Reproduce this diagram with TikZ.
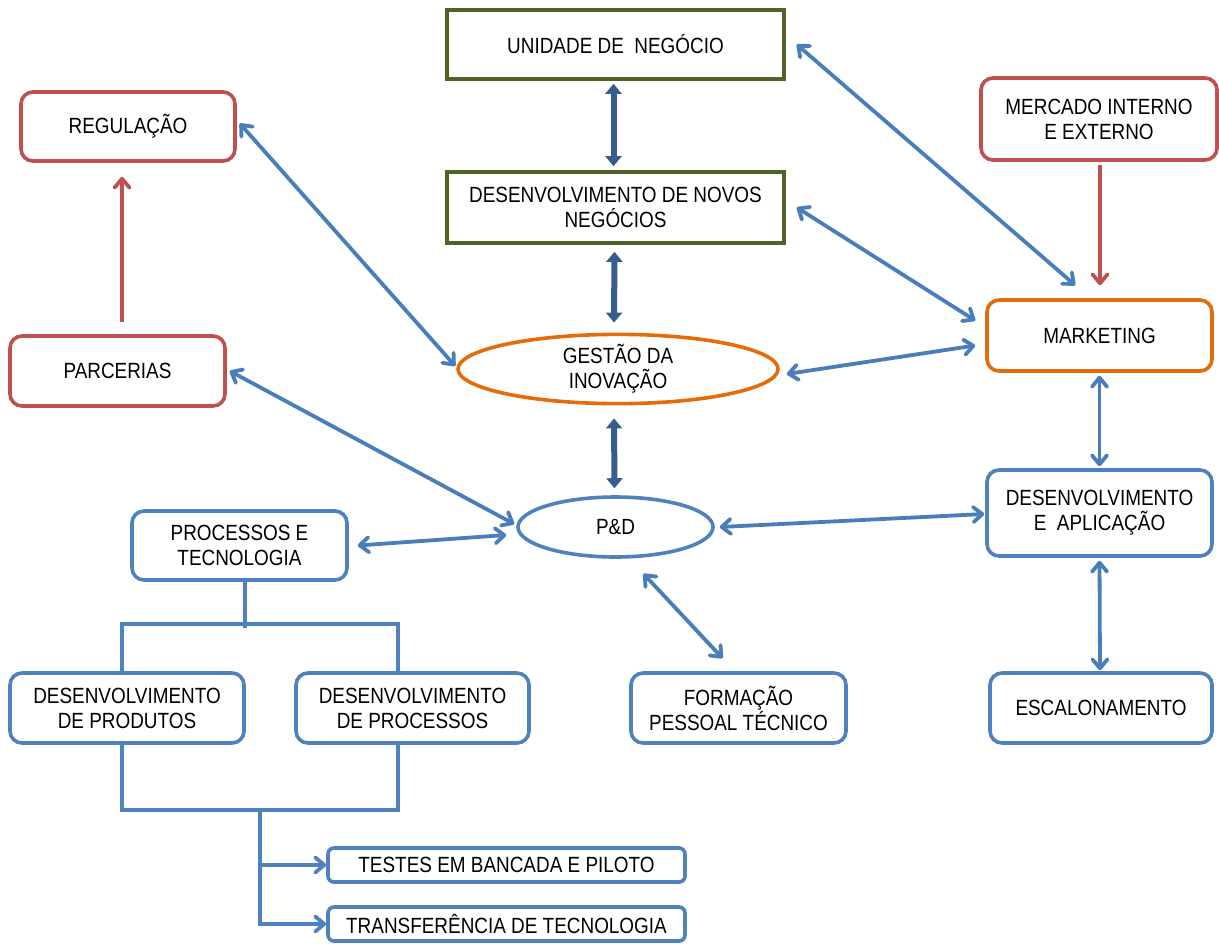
\documentclass[tikz,border=0pt]{standalone}
\usepackage{fontspec}
\usetikzlibrary{arrows.meta,shapes.geometric,calc}
\newfontfamily\labfont{Liberation Sans}[FakeStretch=0.86]
\definecolor{olivegreen}{HTML}{4F6228}
\definecolor{brickred}{HTML}{C0504D}
\definecolor{pumpkin}{HTML}{E46C0A}
\definecolor{steelblue}{HTML}{4F81BD}
\definecolor{linkblue}{HTML}{4A7EBB}
\definecolor{navyblue}{HTML}{385D8A}
\tikzset{
  lab/.style={font=\labfont\fontsize{11}{12.5}\selectfont, align=center, text=black, line width=1.8pt, inner sep=0pt},
  greenbox/.style={lab, draw=olivegreen, rectangle},
  redbox/.style={lab, draw=brickred, rectangle, rounded corners=6pt},
  orangebox/.style={lab, draw=pumpkin, rectangle, rounded corners=6pt},
  bluebox/.style={lab, draw=steelblue, rectangle, rounded corners=6pt},
  thinbox/.style={lab, draw=steelblue, rectangle, rounded corners=3pt},
  oval/.style={lab, ellipse},
  barb/.tip={Straight Barb[length=4.5pt,width=7.5pt,line join=round,line cap=round]},
  conn/.style={draw=linkblue, line width=1.9pt, barb-barb},
  redconn/.style={draw=brickred, line width=1.9pt, -barb},
  mainlink/.style={draw=navyblue, line width=3pt, {Triangle[length=5pt,width=8pt]}-{Triangle[length=5pt,width=8pt]}},
  tree/.style={draw=steelblue, line width=1.9pt},
  treearrow/.style={tree, -barb},
}
\begin{document}
\begin{tikzpicture}[x=0.5pt, y=-0.5pt]
\useasboundingbox (0,0) rectangle (1219,943);

% --- nodes ---
\node[greenbox, minimum width=168.5pt, minimum height=34.5pt] (un) at (615.5,44.5) {UNIDADE DE\ \ NEGÓCIO};
\node[greenbox, minimum width=168.5pt, minimum height=35.5pt] (dnn) at (615.5,207.5) {DESENVOLVIMENTO DE NOVOS\\NEGÓCIOS};
\node[oval, draw=pumpkin, minimum width=160pt, minimum height=33pt] (gi) at (618,369) {GESTÃO DA\\INOVAÇÃO};
\node[oval, draw=steelblue, minimum width=97.5pt, minimum height=30pt] (pd) at (615.5,527) {P\&D};
\node[redbox, minimum width=107pt, minimum height=34.5pt] (reg) at (128,126.5) {REGULAÇÃO};
\node[redbox, minimum width=107.5pt, minimum height=35pt] (par) at (117.5,371) {PARCERIAS};
\node[redbox, minimum width=118pt, minimum height=41pt] (mer) at (1099,119) {MERCADO INTERNO\\E EXTERNO};
\node[orangebox, minimum width=112.5pt, minimum height=35.5pt] (mkt) at (1099.5,335.5) {MARKETING};
\node[bluebox, minimum width=112.5pt, minimum height=43pt] (dap) at (1099.5,513) {DESENVOLVIMENTO\\E\ \ APLICAÇÃO};
\node[bluebox, minimum width=111pt, minimum height=35pt] (esc) at (1101,708) {ESCALONAMENTO};
\node[bluebox, minimum width=107.5pt, minimum height=35pt] (for) at (738.5,708) {FORMAÇÃO\\PESSOAL TÉCNICO};
\node[bluebox, minimum width=107.5pt, minimum height=34.5pt] (pt) at (239.5,545.5) {PROCESSOS E\\TECNOLOGIA};
\node[bluebox, minimum width=117pt, minimum height=35pt] (dprod) at (127,708) {DESENVOLVIMENTO\\DE PRODUTOS};
\node[bluebox, minimum width=116.5pt, minimum height=35pt] (dproc) at (412.5,708) {DESENVOLVIMENTO\\DE PROCESSOS};
\node[thinbox, minimum width=178.5pt, minimum height=17pt] (tes) at (506.5,865) {TESTES EM BANCADA E PILOTO};
\node[thinbox, minimum width=178.5pt, minimum height=17pt] (tra) at (506.5,924) {TRANSFERÊNCIA DE TECNOLOGIA};

% --- central spine ---
\draw[mainlink] ($(un.south)+(-2,3)$) -- ($(dnn.north)+(-2,-4)$);
\draw[mainlink] ($(dnn.south)+(-1,7)$) -- ($(gi.north)+(-4,-10)$);
\draw[mainlink] ($(gi.south)+(-4,13)$) -- ($(pd.north)+(-1,-7)$);

% --- two-way links ---
\draw[conn] ($(un.east)+(11,0)$) -- ($(mkt.north west)+(90,-13)$);
\draw[conn] ($(dnn.east)+(11,0)$) -- ($(mkt.west)+(-10,-15)$);
\draw[conn] ($(reg.east)+(3,-3)$) -- ($(gi.west)+(-1,-3)$);
\draw[conn] ($(gi.east)+(7,5)$) -- ($(mkt.west)+(-10,10)$);
\draw[conn] ($(par.east)+(3,0)$) -- ($(pd.west)+(-2,-3)$);
\draw[conn] ($(pt.east)+(9,0)$) -- ($(pd.west)+(-10,8)$);
\draw[conn] ($(pd.east)+(5,0)$) -- ($(dap.west)+(-1,1)$);
\draw[conn] ($(pd.south)+(28,15)$) -- ($(for.north)+(-16,-13)$);
\draw[conn] ($(mkt.south)+(0,3)$) -- ($(dap.north)+(0,-2)$);
\draw[conn] ($(dap.south)+(0,3)$) -- ($(esc.north)+(-1,-1)$);

% --- one-way links ---
\draw[redconn] ($(par.north)+(4.5,-12)$) -- ($(reg.south)+(-6,14)$);
\draw[redconn] ($(mer.south)+(1,3)$) -- ($(mkt.north)+(0.5,-13)$);

% --- development tree ---
\draw[tree] ($(pt.south)+(5.5,0)$) -- ++(0,46);
\draw[tree] ($(dprod.north)+(-5,0)$) -- ++(0,-47) -- ($(dproc.north)+(-14.5,-47)$) -- ($(dproc.north)+(-14.5,0)$);
\draw[tree] ($(dprod.south)+(-5,0)$) -- ++(0,65) coordinate (bl) -- ($(dproc.south)+(-14.5,65)$) -- ($(dproc.south)+(-14.5,0)$);
\coordinate (bm) at ($(bl)+(138,0)$);
\draw[treearrow] (bm) |- (tra.west);
\draw[treearrow] (bm |- tes.west) -- (tes.west);
\end{tikzpicture}
\end{document}
